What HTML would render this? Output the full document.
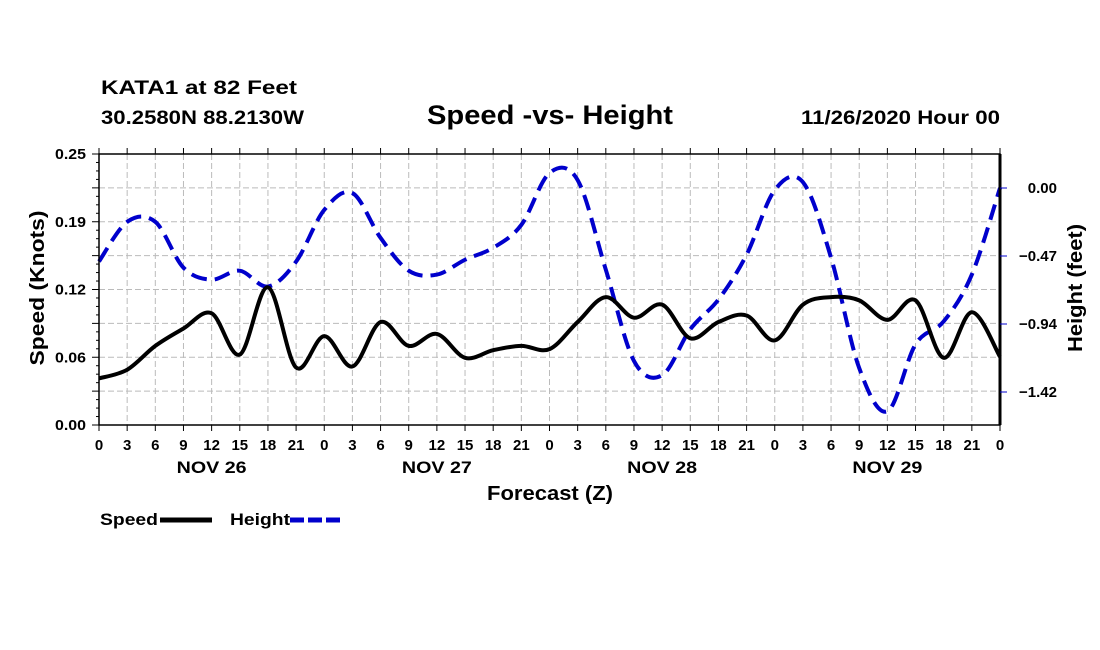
<!DOCTYPE html>
<html><head><meta charset="utf-8"><style>
body{margin:0;background:#fff;}
svg{display:block;font-family:"Liberation Sans",sans-serif;font-weight:bold;}
</style></head><body>
<svg id="chart" width="1100" height="650">
<text x="101" y="94" font-size="19" textLength="196" lengthAdjust="spacingAndGlyphs">KATA1 at 82 Feet</text>
<text x="101" y="124" font-size="19" textLength="203" lengthAdjust="spacingAndGlyphs">30.2580N 88.2130W</text>
<text x="427" y="124" font-size="27" textLength="246" lengthAdjust="spacingAndGlyphs">Speed -vs- Height</text>
<text x="801" y="124" font-size="19" textLength="199" lengthAdjust="spacingAndGlyphs">11/26/2020 Hour 00</text>
<g id="grid"></g><g id="series"></g><g id="axes"></g>
<text transform="translate(44,288) rotate(-90)" font-size="20" text-anchor="middle" textLength="155" lengthAdjust="spacingAndGlyphs">Speed (Knots)</text>
<text transform="translate(1082,288) rotate(-90)" font-size="20" text-anchor="middle" textLength="128" lengthAdjust="spacingAndGlyphs">Height (feet)</text>
<text x="550" y="500" font-size="20" text-anchor="middle" textLength="126" lengthAdjust="spacingAndGlyphs">Forecast (Z)</text>
<g>
<text x="100" y="525" font-size="17" textLength="58" lengthAdjust="spacingAndGlyphs">Speed</text>
<line x1="160" y1="520" x2="212" y2="520" stroke="#000" stroke-width="5"/>
<text x="230" y="525" font-size="17" textLength="60" lengthAdjust="spacingAndGlyphs">Height</text>
<line x1="290" y1="520" x2="342" y2="520" stroke="#00c" stroke-width="5" stroke-dasharray="14,4"/>
</g>
</svg>
<script>
const hourLabels=["0","3","6","9","12","15","18","21","0","3","6","9","12","15","18","21","0","3","6","9","12","15","18","21","0","3","6","9","12","15","18","21","0"];
const dayLabels=["NOV 26","NOV 27","NOV 28","NOV 29"];
const speedTicks=["0.00","0.06","0.12","0.19","0.25"];
const heightTicks=["0.00","-0.47","-0.94","-1.42"];
const speed=[0.043,0.051,0.073,0.089,0.103,0.065,0.127,0.053,0.082,0.054,0.095,0.073,0.084,0.062,0.069,0.073,0.070,0.095,0.118,0.099,0.111,0.080,0.095,0.101,0.078,0.111,0.118,0.115,0.097,0.115,0.062,0.104,0.063];
const height=[-0.51,-0.235,-0.235,-0.553,-0.636,-0.574,-0.684,-0.511,-0.152,-0.035,-0.346,-0.574,-0.601,-0.498,-0.415,-0.256,0.104,0.055,-0.567,-1.2,-1.3,-0.981,-0.774,-0.463,-0.014,0.041,-0.484,-1.25,-1.55,-1.085,-0.926,-0.601,0.0];
const X0=99,X1=1000,Y0=425,Y1=154;
const xs=i=>X0+(X1-X0)*i/32;
const ySpeed=v=>Y0-(Y0-Y1)*v/0.25;
const yHeight=h=>188-h*68/0.472;
const NS="http://www.w3.org/2000/svg";
function mk(tag,attrs,parent){const e=document.createElementNS(NS,tag);for(const k in attrs)e.setAttribute(k,attrs[k]);parent.appendChild(e);return e;}
const grid=document.getElementById('grid'),axes=document.getElementById('axes'),series=document.getElementById('series');
for(let i=1;i<32;i++){const l=mk('line',{x1:xs(i),x2:xs(i),y1:Y1,y2:Y0,stroke:'#bbb','stroke-dasharray':'6,3'},grid);

}
for(let j=1;j<8;j++){const y=ySpeed(0.25*j/8);const l=mk('line',{x1:X0,x2:X1,y1:y,y2:y,stroke:'#bbb','stroke-dasharray':'6,3'},grid);

}
function path(vals,yf){const p=vals.map((v,i)=>[xs(i),yf(v)]);let d=`M${p[0][0]},${p[0][1]}`;
for(let i=0;i<p.length-1;i++){const a=p[Math.max(0,i-1)],b=p[i],c=p[i+1],e=p[Math.min(p.length-1,i+2)];
d+=` C${b[0]+(c[0]-a[0])/6},${b[1]+(c[1]-a[1])/6} ${c[0]-(e[0]-b[0])/6},${c[1]-(e[1]-b[1])/6} ${c[0]},${c[1]}`;}return d;}
const hp=mk('path',{d:path(height,yHeight),fill:'none',stroke:'#00c','stroke-width':4,'stroke-dasharray':'16,8'},series);


const sp=mk('path',{d:path(speed,ySpeed),fill:'none',stroke:'#000','stroke-width':4},series);


const frame=mk('rect',{x:X0,y:Y1,width:X1-X0,height:Y0-Y1,fill:'none',stroke:'#000','stroke-width':1.5},axes);


const ra=mk('line',{x1:X1,x2:X1,y1:Y1,y2:Y0,stroke:'#000','stroke-width':3},axes);


hourLabels.forEach((t,i)=>{const x=xs(i);
mk('line',{x1:x,x2:x,y1:Y0,y2:Y0+6,stroke:'#000'},axes);mk('line',{x1:x,x2:x,y1:Y1,y2:Y1-6,stroke:'#000'},axes);
const tx=mk('text',{x:x,y:450,'font-size':15,'text-anchor':'middle'},axes);tx.textContent=t;

});
dayLabels.forEach((t,i)=>{const tx=mk('text',{x:xs(i*8+4),y:473,'font-size':17,'text-anchor':'middle',textLength:70,lengthAdjust:'spacingAndGlyphs'},axes);tx.textContent=t;

});
for(let j=0;j<=32;j++){const y=ySpeed(0.25*j/32);mk('line',{x1:X0-(j%4?3:7),x2:X0,y1:y,y2:y,stroke:'#000'},axes);}
speedTicks.forEach((t,j)=>{const tx=mk('text',{x:86,y:ySpeed(0.0625*j)+5,'font-size':15,'text-anchor':'end',textLength:31,lengthAdjust:'spacingAndGlyphs'},axes);tx.textContent=t;

});
heightTicks.forEach((t,j)=>{const y=yHeight(-0.472*j);mk('line',{x1:X1,x2:X1+7,y1:y,y2:y,stroke:'#00c'},axes);
const tx=mk('text',{x:1057,y:y+5,'font-size':15,'text-anchor':'end'},axes);tx.textContent=t.replace('-','\u2212');

});
</script>
</body></html>
